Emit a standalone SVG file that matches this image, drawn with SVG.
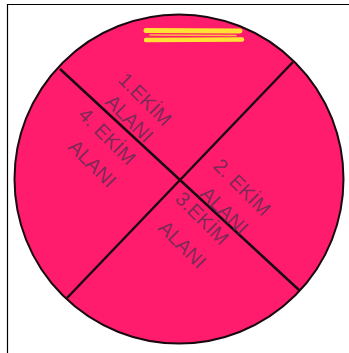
<svg xmlns="http://www.w3.org/2000/svg" width="349" height="353" viewBox="0 0 349 353">
<style>
.lbl{font-family:"Liberation Sans",Arial,sans-serif;font-size:20px;fill:#5a2c52;fill-opacity:0.8}
.div{stroke:#1a0a10;stroke-width:2.5;fill:none}
</style>
<rect width="349" height="353" fill="#ffffff"/>
<path d="M7.5,353 V4.5 H349" fill="none" stroke="#000" stroke-width="1.2"/>
<g id="disc">
<circle cx="179" cy="179" r="164.5" fill="#ff1c6c" stroke="#1a0a10" stroke-width="2"/>
</g>
<g id="scribble" stroke="#ffe234" stroke-linecap="round" fill="none">
<path d="M146,30.5 L240,31" stroke-width="5"/>
<path d="M146,40 L242,39.5" stroke-width="4.5"/>
<path d="M150,35 L236,35.5" stroke-width="1.5" stroke="#ffc040"/>
</g>
<g id="connectors">
<line class="div" x1="60" y1="69" x2="299" y2="290"/>
<line class="div" x1="293" y1="62" x2="67" y2="298"/>
</g>
<g id="area1">
<text class="lbl" transform="translate(117,81) rotate(45)">1.EKİM</text>
<text class="lbl" transform="translate(104,103) rotate(45)">ALANI</text>
</g>
<g id="area4">
<text class="lbl" transform="translate(77,116) rotate(45)">4. EKİM</text>
<text class="lbl" transform="translate(67,148) rotate(45)">ALANI</text>
</g>
<g id="area2">
<text class="lbl" transform="translate(212,167) rotate(45)">2. EKİM</text>
<text class="lbl" transform="translate(199,195) rotate(45)">ALANI</text>
</g>
<g id="area3">
<text class="lbl" transform="translate(174,200) rotate(45)">3.EKİM</text>
<text class="lbl" transform="translate(157,229) rotate(45)">ALANI</text>
</g>
</svg>
